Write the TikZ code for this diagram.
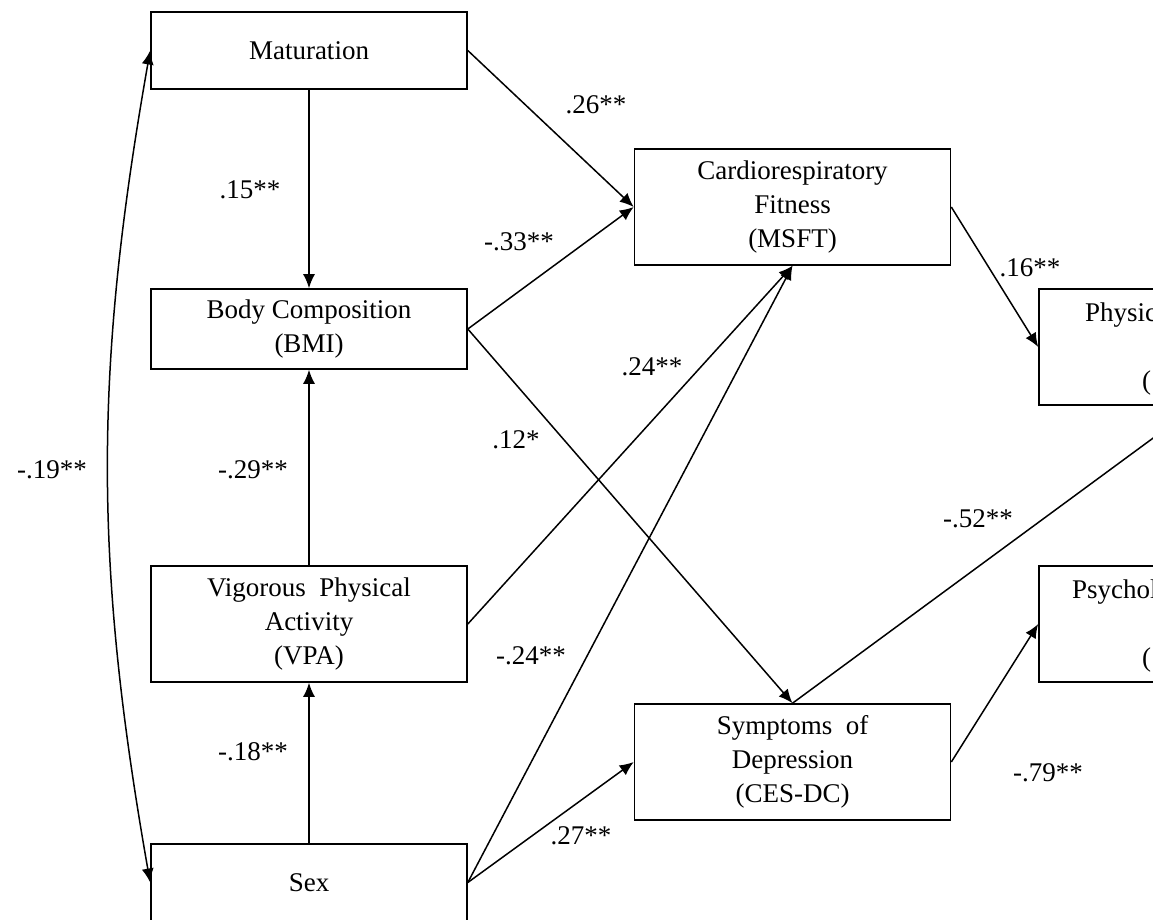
\documentclass[tikz,border=0pt]{standalone}
\usepackage{fontspec}
\setmainfont{Liberation Serif}
\usetikzlibrary{arrows.meta}

\begin{document}
\begin{tikzpicture}[x=1pt,y=-1pt]
\tikzset{var/.style={draw=black, line width=1.6pt, minimum width=316pt, inner sep=0pt, align=center, font=\fontsize{27}{34}\selectfont},
coef/.style={inner sep=0pt, font=\fontsize{27}{34}\selectfont},
arr/.style={line width=1.5pt, -{Latex[length=14pt,width=12pt]}}}
\path[use as bounding box, clip] (0,0) rectangle (1153,920);

% variables
\node[var, minimum height=77pt] (mat) at (309,50.5) {Maturation};
\node[var, minimum height=80pt] (bmi) at (309,329) {Body Composition\\(BMI)};
\node[var, minimum height=116pt] (vpa) at (309,624) {Vigorous~~Physical\\Activity\\(VPA)};
\node[var, minimum height=77pt] (sex) at (309,882.5) {Sex};
\node[var, minimum height=116pt] (msft) at (792.5,207) {Cardiorespiratory\\Fitness\\(MSFT)};
\node[var, minimum height=116pt] (dep) at (792.5,762) {Symptoms~~of\\Depression\\(CES-DC)};
\node[var, minimum height=116pt] (phys) at (1197,347) {};
\node[var, minimum height=116pt] (psy) at (1197,624) {};
\node[coef, anchor=base west] (physa) at (1085,321) {Physic};
\node[coef, anchor=base west] (physb) at (1142,389) {(};
\node[coef, anchor=base west] (psya) at (1072,598) {Psychol};
\node[coef, anchor=base west] (psyb) at (1142,666) {(};

% paths
\draw[arr] (mat) -- (bmi);
\draw[arr] (vpa) -- (bmi);
\draw[arr] (sex) -- (vpa);
\draw[arr, {Latex[length=14pt,width=12pt]}-{Latex[length=14pt,width=12pt]}] (mat.west) to[bend right=10] (sex.west);
\draw[arr] (mat.east) -- (msft.west);
\draw[arr] (bmi.east) -- (msft.west);
\draw[arr] (bmi.east) -- (dep.north);
\draw[arr] (vpa.east) -- (msft.south);
\draw[arr] (sex.east) -- (msft.south);
\draw[arr] (sex.east) -- (dep.west);
\draw[arr] (dep.north) -- (phys.south);
\draw[arr] (msft.east) -- (phys.west);
\draw[arr] (dep.east) -- (psy.west);

% coefficients
\node[coef] (c1) at (596,105) {.26**};
\node[coef] (c2) at (250,190) {.15**};
\node[coef] (c3) at (519,242) {-.33**};
\node[coef] (c4) at (1030,268) {.16**};
\node[coef] (c5) at (652,367) {.24**};
\node[coef] (c6) at (516,440) {.12*};
\node[coef] (c7) at (253,470) {-.29**};
\node[coef] (c8) at (52,470) {-.19**};
\node[coef] (c9) at (978,519) {-.52**};
\node[coef] (c10) at (531,656) {-.24**};
\node[coef] (c11) at (253,752) {-.18**};
\node[coef] (c12) at (1048,773) {-.79**};
\node[coef] (c13) at (581,836) {.27**};
\end{tikzpicture}
\end{document}
